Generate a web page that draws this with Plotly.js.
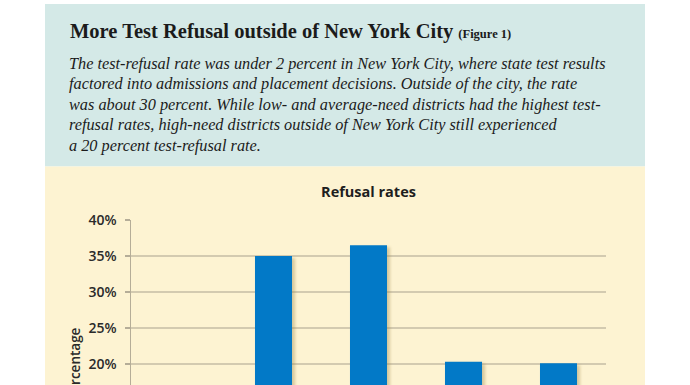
<!DOCTYPE html>
<html>
<head>
<meta charset="utf-8">
<script src="https://cdn.plot.ly/plotly-3.0.1.min.js"></script>
<style>
  html, body { margin: 0; padding: 0; background: #ffffff; overflow: hidden; width: 690px; height: 385px; }
  #chart { width: 690px; height: 385px; }
  #chart .bars path { filter: drop-shadow(3px 2px 1.5px rgba(150, 125, 60, 0.35)); }
</style>
</head>
<body>
<div id="chart"></div>
<script>
// ---- data ----
const categories = ["New York City", "Low need", "Average need", "High need urban-suburban", "High need rural"];
const refusalRates = [1.7, 35.0, 36.5, 20.3, 20.1];
const yTickValues = [0, 5, 10, 15, 20, 25, 30, 35, 40];
const yTickLabels = ["0%", "5%", "10%", "15%", "20%", "25%", "30%", "35%", "40%"];

const headline = "More Test Refusal outside of New York City";
const figureTag = "(Figure 1)";
const introLines = [
  "The test-refusal rate was under 2 percent in New York City, where state test results",
  "factored into admissions and placement decisions. Outside of the city, the rate",
  "was about 30 percent. While low- and average-need districts had the highest test-",
  "refusal rates, high-need districts outside of New York City still experienced",
  "a 20 percent test-refusal rate."
];
const chartTitle = "Refusal rates";
const yAxisTitle = "Percentage";

// ---- layout geometry (pixels) ----
// The picture is a crop of a taller chart: the plot continues below the window,
// so the visible part of the value axis starts above zero.
const W = 690, Hh = 385;
const L = 131, R = 84, T = 220, B = 0;
const PW = W - L - R, PH = Hh - T - B;
const pxPerUnit = 7.2;               // 36 px per 5 %
const yTop = 40;
const yBottom = yTop - PH / pxPerUnit;
const px = x => (x - L) / PW;
const py = y => (T + PH - y) / PH;

const serif = "Liberation Serif, DejaVu Serif, serif";
const sans = "Open Sans, Lato, sans-serif";

const annotations = [];
annotations.push({
  xref: "paper", yref: "paper", x: px(68), y: py(31.5), xanchor: "left", yanchor: "middle",
  text: "<b>" + headline + "</b> <span style=\"font-size:12.5px\"><b>" + figureTag + "</b></span>",
  showarrow: false, font: { family: serif, size: 20.5, color: "#1b1b1b" }
});
introLines.forEach((line, i) => {
  annotations.push({
    xref: "paper", yref: "paper", x: px(67), y: py(63.5 + i * 20.4), xanchor: "left", yanchor: "middle",
    text: "<i>" + line + "</i>", showarrow: false,
    font: { family: serif, size: 16.3, color: "#1b1b1b" }
  });
});
annotations.push({
  xref: "paper", yref: "paper", x: px(75), y: py(364), xanchor: "center", yanchor: "middle",
  textangle: -90, text: yAxisTitle, showarrow: false,
  font: { family: sans, size: 13.5, color: "#2a2a2a", weight: 600 }
});

const shapes = [
  { type: "rect", xref: "paper", yref: "paper", layer: "below",
    x0: px(45), x1: px(645), y0: py(166.5), y1: py(4),
    fillcolor: "#d4e9e7", line: { width: 0 } },
  { type: "rect", xref: "paper", yref: "paper", layer: "below",
    x0: px(45), x1: px(645), y0: py(Hh + 5), y1: py(166.5),
    fillcolor: "#fdf3d2", line: { width: 0 } }
];

const trace = {
  type: "bar",
  x: categories,
  y: refusalRates,
  marker: { color: "#0279c7", line: { width: 0 } },
  hoverinfo: "x+y"
};

const layout = {
  width: W, height: Hh,
  margin: { l: L, r: R, t: T, b: B, pad: 0 },
  paper_bgcolor: "#ffffff",
  plot_bgcolor: "rgba(0,0,0,0)",
  showlegend: false,
  bargap: 0.61,
  title: {
    text: "<b>" + chartTitle + "</b>",
    font: { family: sans, size: 14.5, color: "#1e1e1e" },
    x: 0.5, xref: "paper", xanchor: "center",
    y: 1 - 192 / Hh, yref: "container", yanchor: "middle"
  },
  xaxis: {
    type: "category",
    showgrid: false, zeroline: false, showline: false,
    showticklabels: false, ticks: "",
    fixedrange: true
  },
  yaxis: {
    range: [yBottom, yTop],
    tickvals: yTickValues,
    ticktext: yTickLabels,
    showgrid: true, gridcolor: "#d3cab0", gridwidth: 1.5,
    zeroline: false,
    showline: true, linecolor: "#b5ad98", linewidth: 1.5,
    ticks: "outside", ticklen: 5, tickcolor: "#b5ad98", tickwidth: 1.5,
    ticklabelstandoff: 5,
    tickfont: { family: sans, size: 14, color: "#2a2a2a", weight: 600 },
    automargin: false,
    fixedrange: true
  },
  shapes: shapes,
  annotations: annotations
};

Plotly.newPlot("chart", [trace], layout, { displayModeBar: false, staticPlot: true });
</script>
</body>
</html>
